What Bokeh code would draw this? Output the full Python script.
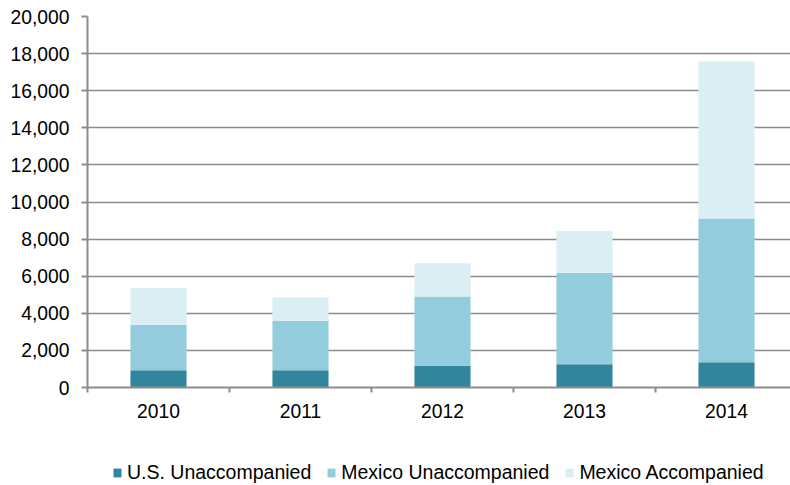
from bokeh.plotting import figure
from bokeh.layouts import column
from bokeh.models import (ColumnDataSource, Range1d, FixedTicker, NumeralTickFormatter,
                          Legend, LegendItem)
from bokeh.embed import file_html
from bokeh.resources import INLINE

years = ["2010", "2011", "2012", "2013", "2014"]
us_unaccompanied = [930, 930, 1170, 1260, 1360]
mexico_unaccompanied = [2450, 2670, 3730, 4920, 7750]
mexico_accompanied = [1990, 1250, 1800, 2250, 8460]
y_ticks = list(range(0, 20001, 2000))

series_names = ["U.S. Unaccompanied", "Mexico Unaccompanied", "Mexico Accompanied"]
colors = ["#31859C", "#93CDDD", "#DBEEF4"]

xpos = [i + 0.5 for i in range(len(years))]
data = dict(x=xpos, us=us_unaccompanied, mu=mexico_unaccompanied, ma=mexico_accompanied)
source = ColumnDataSource(data)

FONT = "Liberation Sans"
GREY = "#8c8c8c"
FS = "19.3px"

p = figure(frame_width=703, frame_height=371, output_backend="svg", toolbar_location=None,
           x_range=Range1d(0, 703 / 142), y_range=Range1d(0, 20000),
           min_border_left=87, min_border_top=16, min_border_right=0, min_border_bottom=53)
p.outline_line_color = None
p.background_fill_color = "white"

r = p.vbar_stack(["us", "mu", "ma"], x="x", width=0.395, source=source,
                 color=colors, line_color=None)

# y axis
p.yaxis.ticker = FixedTicker(ticks=y_ticks, minor_ticks=[])
p.yaxis.formatter = NumeralTickFormatter(format="0,0")
p.yaxis.major_tick_out = 6
p.yaxis.major_tick_in = 0
p.yaxis.minor_tick_out = 0
p.yaxis.minor_tick_in = 0
p.yaxis.major_label_standoff = 12
p.yaxis.axis_line_color = GREY
p.yaxis.axis_line_width = 2
p.yaxis.major_tick_line_color = GREY
p.yaxis.major_tick_line_width = 2
p.yaxis.major_label_text_font = FONT
p.yaxis.major_label_text_font_size = FS
p.yaxis.major_label_text_color = "#000000"

# x axis: labels at category centres, tick marks at category boundaries
p.xaxis.ticker = FixedTicker(ticks=xpos, minor_ticks=list(range(len(years) + 1)))
p.xaxis.major_label_overrides = {x: y for x, y in zip(xpos, years)}
p.xaxis.major_tick_out = 0
p.xaxis.major_tick_in = 0
p.xaxis.minor_tick_out = 5
p.xaxis.minor_tick_in = 0
p.xaxis.minor_tick_line_color = GREY
p.xaxis.minor_tick_line_width = 2
p.xaxis.major_label_standoff = 11
p.xaxis.axis_line_color = GREY
p.xaxis.axis_line_width = 2
p.xaxis.major_label_text_font = FONT
p.xaxis.major_label_text_font_size = FS
p.xaxis.major_label_text_color = "#000000"

p.xgrid.grid_line_color = None
p.ygrid.ticker = FixedTicker(ticks=y_ticks[1:])
p.ygrid.grid_line_color = GREY
p.ygrid.grid_line_width = 1.5

# legend strip below the chart (its stacked bars lie outside its view; only the legend shows)
lg = figure(width=790, height=45, output_backend="svg", toolbar_location=None,
            x_range=Range1d(-20, -19), y_range=Range1d(0, 1),
            x_axis_location=None, y_axis_location=None,
            min_border_left=0, min_border_right=0, min_border_top=0, min_border_bottom=0)
lg.outline_line_color = None
lg.xgrid.grid_line_color = None
lg.ygrid.grid_line_color = None
legend_renderers = lg.vbar_stack(["us", "mu", "ma"], x="x", width=0.395, source=source,
                                 color=colors, line_color=None)

legend = Legend(items=[LegendItem(label=n, renderers=[rr])
                       for n, rr in zip(series_names, legend_renderers)],
                orientation="horizontal", location=(25, 1))
legend.label_text_font = FONT
legend.label_text_font_size = "19.5px"
legend.label_text_color = "#000000"
legend.glyph_width = 10
legend.glyph_height = 11
legend.label_standoff = 5
legend.spacing = 15
legend.padding = 0
legend.margin = 0
legend.border_line_color = None
legend.background_fill_alpha = 0
lg.add_layout(legend, "center")

layout = column(p, lg, spacing=0)
open("out.html", "w").write(file_html(layout, INLINE))
